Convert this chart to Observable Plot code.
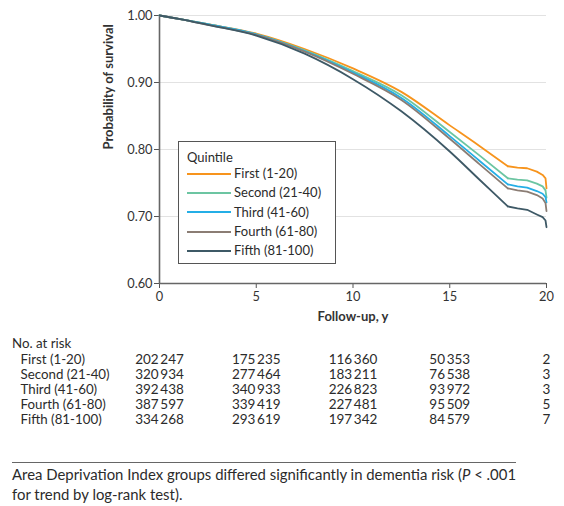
<!DOCTYPE html>
<html>
<head>
<meta charset="utf-8">
<script src="https://cdn.jsdelivr.net/npm/d3@7"></script>
<script src="https://cdn.jsdelivr.net/npm/@observablehq/plot@0.6"></script>
<style>
  body { margin: 0; background: #fff; font-family: Lato, "Open Sans", sans-serif; color: #2b2b2b; }
  #wrap { position: relative; width: 564px; height: 506px; }
  .abs { position: absolute; }
  #legend { left: 178px; top: 141px; width: 156px; height: 121px; border: 1px solid #555; background: #fff; font-size: 13px; }
  #legend .title { position: absolute; left: 8px; top: 7px; }
  #legend .row { position: absolute; left: 8px; height: 18px; line-height: 18px; white-space: nowrap; }
  #legend .sw { display: inline-block; width: 44px; height: 2px; vertical-align: middle; margin-right: 3px; margin-top: -2px; }
  .lab { font-size: 13.3px; white-space: nowrap; }
  #caption { left: 12px; top: 462px; width: 504px; border-top: 1.3px solid #666; padding-top: 1px; font-size: 14.9px; line-height: 20px; white-space: nowrap; }
</style>
</head>
<body>
<div id="wrap"></div>
<script>
// ---- data ----
const groups = ["First (1-20)", "Second (21-40)", "Third (41-60)", "Fourth (61-80)", "Fifth (81-100)"];
const colors = ["#f7941d", "#6cc5a2", "#24aee6", "#8b7d74", "#3e5966"];
const times = [0, 1, 2.5, 5, 7.5, 10, 12.5, 15, 16.5, 18, 18.5, 19, 19.5, 19.8, 19.95, 20];
const first  = [1, 0.995, 0.987, 0.973, 0.950, 0.921, 0.886, 0.836, 0.806, 0.775, 0.773, 0.772, 0.767, 0.762, 0.757, 0.742];
const second = [1, 0.995, 0.987, 0.972, 0.948, 0.917, 0.881, 0.826, 0.792, 0.757, 0.755, 0.754, 0.749, 0.745, 0.739, 0.728];
const third  = [1, 0.995, 0.987, 0.972, 0.947, 0.915, 0.877, 0.820, 0.784, 0.748, 0.745, 0.743, 0.738, 0.734, 0.729, 0.721];
const fourth = [1, 0.995, 0.986, 0.971, 0.946, 0.913, 0.874, 0.816, 0.779, 0.742, 0.739, 0.737, 0.732, 0.727, 0.720, 0.708];
const fifth  = [1, 0.995, 0.986, 0.970, 0.943, 0.905, 0.857, 0.797, 0.756, 0.715, 0.712, 0.710, 0.703, 0.699, 0.694, 0.684];
const yTicks = [0.6, 0.7, 0.8, 0.9, 1.0];
const xTicks = [0, 5, 10, 15, 20];
const gridY = [0.7, 0.8, 0.9, 1.0];
const riskTimes = [0, 5, 10, 15, 20];
const riskFirst  = [202247, 175235, 116360, 50353, 2];
const riskSecond = [320934, 277464, 183211, 76538, 3];
const riskThird  = [392438, 340933, 226823, 93972, 3];
const riskFourth = [387597, 339419, 227481, 95509, 5];
const riskFifth  = [334268, 293619, 197342, 84579, 7];

const series = [first, second, third, fourth, fifth];
const curves = [];
series.forEach((s, gi) => s.forEach((v, i) => curves.push({ group: groups[gi], t: times[i], s: v })));
const riskSeries = [riskFirst, riskSecond, riskThird, riskFourth, riskFifth];
const risk = [];
riskSeries.forEach((r, gi) => r.forEach((v, i) => risk.push({ group: groups[gi], t: riskTimes[i], n: v })));
const fmtN = n => n >= 1000 ? String(n).replace(/\B(?=(\d{3})+(?!\d))/g, "\u2009") : String(n);

const wrap = document.getElementById("wrap");
const FONT = "Lato, 'Open Sans', sans-serif";

const chart = Plot.plot({
  width: 564, height: 330,
  marginLeft: 159, marginRight: 18, marginTop: 15, marginBottom: 47,
  style: { fontFamily: FONT, fontSize: "12.5px", color: "#333", background: "transparent" },
  x: { domain: [0, 20], ticks: xTicks, label: null },
  y: { domain: [0.6, 1.0], ticks: yTicks, label: null },
  color: { domain: groups, range: colors },
  marks: [
    Plot.ruleY(gridY, { stroke: "#e2e2e2", strokeWidth: 1.2 }),
    Plot.axisX({ ticks: xTicks, tickSize: 5, tickPadding: 3, tickFormat: d3.format("d"), stroke: "#555", fontSize: 12.8 }),
    Plot.axisY({ ticks: yTicks, tickSize: 5, tickPadding: 2, tickFormat: d3.format(".2f"), stroke: "#555", fontSize: 12.8 }),
    Plot.ruleX([0], { stroke: "#666", strokeWidth: 1.6 }),
    Plot.ruleY([0.6], { stroke: "#666", strokeWidth: 1.6 }),
    Plot.line(curves, { filter: d => d.t <= 18, x: "t", y: "s", stroke: "group", z: "group", strokeWidth: 1.8, curve: "monotone-x" }),
    Plot.line(curves, { filter: d => d.t >= 18, x: "t", y: "s", stroke: "group", z: "group", strokeWidth: 1.8, curve: "linear" }),
    Plot.text(["Follow-up, y"], { frameAnchor: "bottom", dy: 37, fontWeight: "bold", fontSize: 13, fill: "#333" }),
    Plot.text(["Probability of survival"], { frameAnchor: "left", rotate: -90, dx: -51, fontWeight: "bold", fontSize: 13, fill: "#333" })
  ]
});
chart.classList.add("abs");
chart.style.left = "0px"; chart.style.top = "0px";
wrap.appendChild(chart);

// legend
const leg = document.createElement("div");
leg.id = "legend"; leg.className = "abs";
let html = '<div class="title">Quintile</div>';
groups.forEach((g, i) => {
  html += `<div class="row" style="top:${22 + i * 19.3}px"><span class="sw" style="background:${colors[i]}"></span>${g}</div>`;
});
leg.innerHTML = html;
wrap.appendChild(leg);

// risk table
const nar = document.createElement("div");
nar.className = "abs lab"; nar.style.left = "12px"; nar.style.top = "335px";
nar.textContent = "No. at risk";
wrap.appendChild(nar);

const table = Plot.plot({
  width: 564, height: 80,
  marginLeft: 159, marginRight: 18, marginTop: 0, marginBottom: 0,
  style: { fontFamily: FONT, fontSize: "13.3px", color: "#2b2b2b", background: "transparent" },
  x: { domain: [0, 20], axis: null },
  y: { domain: groups, type: "band", label: null },
  marks: [
    Plot.axisY({ tickSize: 0, tickPadding: 0, textAnchor: "start", dx: -139, fontSize: 13.3, fill: "#2b2b2b" }),
    Plot.text(risk, { x: "t", y: "group", text: d => fmtN(d.n), fontSize: 13.5, fill: "#2b2b2b" })
  ]
});
table.classList.add("abs");
table.style.left = "0px"; table.style.top = "349px";
wrap.appendChild(table);

const cap = document.createElement("div");
cap.id = "caption"; cap.className = "abs";
cap.innerHTML = 'Area Deprivation Index groups differed significantly in dementia risk (<i>P</i> &lt; .001<br>for trend by log-rank test).';
wrap.appendChild(cap);
</script>
</body>
</html>
